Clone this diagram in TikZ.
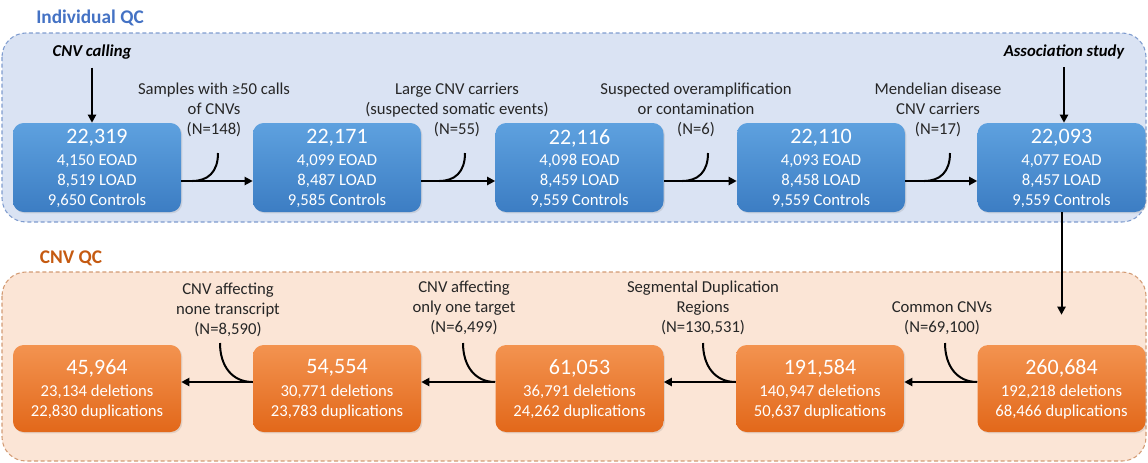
\documentclass[tikz,border=0pt]{standalone}
\usepackage{fontspec}
\setmainfont{Carlito}
\usetikzlibrary{arrows.meta,calc,shadows}
\definecolor{bluetitle}{HTML}{4472C4}
\definecolor{orangetitle}{HTML}{C55A11}
\definecolor{bluebg}{HTML}{DAE3F3}
\definecolor{blueline}{HTML}{7F9CCF}
\definecolor{orangebg}{HTML}{FBE5D6}
\definecolor{orangeline}{HTML}{D39B74}
\definecolor{bboxtop}{HTML}{5EA1DF}
\definecolor{bboxbot}{HTML}{3C7DC3}
\definecolor{oboxtop}{HTML}{F39350}
\definecolor{oboxbot}{HTML}{E2681A}
\definecolor{txt}{HTML}{262626}
\tikzset{
  lbl/.style={font=\fontsize{12.5}{15}\selectfont, text=txt, align=center, inner sep=0pt},
  ttl/.style={font=\fontsize{14.5}{17}\selectfont\bfseries, inner sep=0pt},
  ext/.style={font=\fontsize{12.5}{15}\selectfont\bfseries\itshape, text=black, inner sep=0pt},
  cardbase/.style={rounded corners=8pt, draw=none, minimum width=126pt,
     drop shadow={opacity=0.2, shadow xshift=1pt, shadow yshift=-1pt}},
  bluecardbox/.style={cardbase, top color=bboxtop, bottom color=bboxbot, minimum height=66.75pt},
  orangecardbox/.style={cardbase, top color=oboxtop, bottom color=oboxbot, minimum height=65.25pt},
  bignum/.style={font=\fontsize{16.5}{18}\selectfont, text=white, inner sep=0pt},
  cardtxt/.style={font=\fontsize{12.5}{15}\selectfont, text=white, align=center, inner sep=0pt},
  arr/.style={line width=1.5pt, draw=black, -{Triangle[length=6pt,width=6pt]}},
  hook/.style={line width=1.5pt, draw=black},
  container/.style={dashed, dash pattern=on 3pt off 2pt, line width=0.8pt, rounded corners=18pt}
}
\newcommand\bluecard[6]{%
  \node[bluecardbox] (#1) at (#2,167.5) {};
  \node[bignum] (#1n) at (#2,138) {#3};
  \node[cardtxt] (#1t) at (#2,181) {#4\\#5\\#6};
}
\newcommand\orangecard[5]{%
  \node[orangecardbox] (#1) at (#2,388.5) {};
  \node[bignum] (#1n) at (#2,368) {#3};
  \node[cardtxt] (#1t) at (#2,402.5) {#4\\#5};
}
\begin{document}
\begin{tikzpicture}[x=0.75pt,y=-0.75pt]
\useasboundingbox (0,0) rectangle (1148,462);
% containers
\draw[container, draw=blueline, fill=bluebg] (2,33) rectangle (1146,222);
\draw[container, draw=orangeline, fill=orangebg] (2,272) rectangle (1146,461);
\node[ttl, text=bluetitle] (t1) at (90,18) {Individual QC};
\node[ttl, text=orangetitle] (t2) at (71,258) {CNV QC};

% blue cards
\bluecard{b1}{97}{22,319}{4,150 EOAD}{8,519 LOAD}{9,650 Controls}
\bluecard{b2}{337}{22,171}{4,099 EOAD}{8,487 LOAD}{9,585 Controls}
\bluecard{b3}{579.5}{22,116}{4,098 EOAD}{8,459 LOAD}{9,559 Controls}
\bluecard{b4}{821}{22,110}{4,093 EOAD}{8,458 LOAD}{9,559 Controls}
\bluecard{b5}{1061.5}{22,093}{4,077 EOAD}{8,457 LOAD}{9,559 Controls}

% orange cards
\orangecard{o1}{97}{45,964}{23,134 deletions}{22,830 duplications}
\orangecard{o2}{337}{54,554}{30,771 deletions}{23,783 duplications}
\orangecard{o3}{579.5}{61,053}{36,791 deletions}{24,262 duplications}
\orangecard{o4}{820}{191,584}{140,947 deletions}{50,637 duplications}
\orangecard{o5}{1061.5}{260,684}{192,218 deletions}{68,466 duplications}

% external labels
\node[ext] (cnvcall) at (92,52) {CNV calling};
\node[ext] (assoc) at (1064,52) {Association study};
\draw[arr, shorten <=6pt] (cnvcall.south) -- (cnvcall.south |- b1.north);
\draw[arr, shorten <=6pt] (assoc.south) -- (assoc.south |- b5.north);
\draw[arr, shorten >=22.5pt] (b5.south) -- (o5.north);

% blue filter labels
\node[lbl] (f1) at (214,110) {Samples with ≥50 calls\\of CNVs\\(N=148)};
\node[lbl] (f2) at (457,110) {Large CNV carriers\\(suspected somatic events)\\(N=55)};
\node[lbl] (f3) at (696,110) {Suspected overamplification\\or contamination\\(N=6)};
\node[lbl] (f4) at (938,110) {Mendelian disease\\CNV carriers\\(N=17)};

% blue arrows and hooks
\foreach \a/\b/\k in {b1/b2/218, b2/b3/465, b3/b4/708, b4/b5/950}{
  \draw[arr] ($(\a.east)+(0,13.5)$) -- ($(\b.west)+(0,13.5)$);
  \draw[hook] (\k,153) .. controls (\k,172) and (\k-10,181) .. (\k-26,181);
}

% orange filter labels
\node[lbl] (g1) at (228,310) {CNV affecting\\none transcript\\(N=8,590)};
\node[lbl] (g2) at (464,308) {CNV affecting\\only one target\\(N=6,499)};
\node[lbl] (g3) at (703,308) {Segmental Duplication\\Regions\\(N=130,531)};
\node[lbl] (g4) at (942,318) {Common CNVs\\(N=69,100)};

% orange arrows and hooks
\foreach \a/\b/\k in {o2/o1/220, o3/o2/463, o4/o3/703, o5/o4/945}{
  \draw[arr] ($(\a.west)+(0,-6.5)$) -- ($(\b.east)+(0,-6.5)$);
  \draw[hook] (\k,343) .. controls (\k,366) and (\k+12,382) .. ($(\a.west)+(0,-6.5)$);
}
\end{tikzpicture}
\end{document}
